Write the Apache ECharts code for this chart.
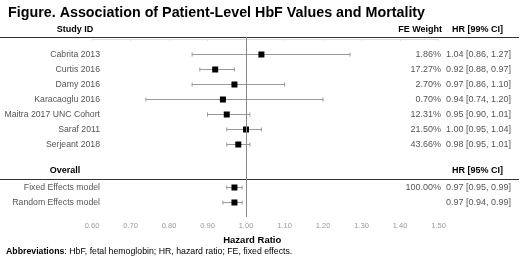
<!DOCTYPE html>
<html>
<head>
<meta charset="utf-8">
<script src="https://cdn.jsdelivr.net/npm/echarts@6/dist/echarts.min.js"></script>
<style>
  html, body { margin: 0; padding: 0; background: #fff; }
  #chart { width: 520px; height: 260px; }
</style>
</head>
<body>
<div id="chart"></div>
<script>
// forest plot data
var studies = ['Cabrita 2013', 'Curtis 2016', 'Damy 2016', 'Karacaoglu 2016', 'Maitra 2017 UNC Cohort', 'Saraf 2011', 'Serjeant 2018'];
var studyHr = [1.04, 0.92, 0.97, 0.94, 0.95, 1.00, 0.98];
var studyLower = [0.86, 0.88, 0.86, 0.74, 0.90, 0.95, 0.95];
var studyUpper = [1.27, 0.97, 1.10, 1.20, 1.01, 1.04, 1.01];
var studyWeight = ['1.86%', '17.27%', '2.70%', '0.70%', '12.31%', '21.50%', '43.66%'];

var models = ['Fixed Effects model', 'Random Effects model'];
var modelHr = [0.97, 0.97];
var modelLower = [0.95, 0.94];
var modelUpper = [0.99, 0.99];
var modelWeight = ['100.00%', ''];

var xTicks = [0.6, 0.7, 0.8, 0.9, 1.0, 1.1, 1.2, 1.3, 1.4, 1.5];

var FONT = '"Liberation Sans", Arial, sans-serif';

function fmt(v) { return v.toFixed(2); }

var rows = [];
studies.forEach(function (s, i) {
  rows.push([studyHr[i], studyLower[i], studyUpper[i], i + 1, s, studyWeight[i]]);
});
models.forEach(function (m, i) {
  rows.push([modelHr[i], modelLower[i], modelUpper[i], studies.length + 2.9 + i, m, modelWeight[i]]);
});

function renderRow(params, api) {
  var hr = api.value(0), lo = api.value(1), hi = api.value(2), r = api.value(3);
  var p = api.coord([hr, r]);
  var a = api.coord([lo, r]);
  var b = api.coord([hi, r]);
  var y = Math.round(p[1]) + 0.5;
  var d = rows[params.dataIndex];
  var txt = { fontFamily: FONT, fontSize: 9, fill: '#555', verticalAlign: 'middle' };
  return {
    type: 'group',
    children: [
      { type: 'line', shape: { x1: a[0], y1: y, x2: b[0], y2: y }, style: { stroke: '#999', lineWidth: 1 } },
      { type: 'line', shape: { x1: a[0], y1: y - 2, x2: a[0], y2: y + 2 }, style: { stroke: '#999', lineWidth: 1 } },
      { type: 'line', shape: { x1: b[0], y1: y - 2, x2: b[0], y2: y + 2 }, style: { stroke: '#999', lineWidth: 1 } },
      { type: 'rect', shape: { x: p[0] - 3, y: y - 3, width: 6, height: 6 }, style: { fill: '#000' } },
      { type: 'text', x: 100, y: y, style: Object.assign({ text: d[4], align: 'right', fontSize: 8.7 }, txt, { fontSize: 8.7 }) },
      { type: 'text', x: 441, y: y, style: Object.assign({ text: d[5], align: 'right' }, txt) },
      { type: 'text', x: 446, y: y, style: Object.assign({ text: fmt(hr) + ' [' + fmt(lo) + ', ' + fmt(hi) + ']', align: 'left' }, txt) }
    ]
  };
}

var chart = echarts.init(document.getElementById('chart'));
var head = { fontFamily: FONT, fontSize: 9, fontWeight: 'bold', fill: '#000', verticalAlign: 'middle' };

chart.setOption({
  animation: false,
  title: {
    text: 'Figure. Association of Patient-Level HbF Values and Mortality',
    left: 3, top: 1,
    textStyle: { fontFamily: FONT, fontSize: 14.3, fontWeight: 'bold', color: '#000' }
  },
  grid: { left: 92, right: 81.5, top: 37, height: 180 },
  xAxis: {
    type: 'value', min: 0.6, max: 1.5, interval: 0.1,
    name: 'Hazard Ratio', nameLocation: 'middle', nameGap: 16,
    nameTextStyle: { fontFamily: FONT, fontSize: 9.5, fontWeight: 'bold', color: '#000', padding: [0, 26, 0, 0] },
    axisLine: { show: true, lineStyle: { color: '#ddd' } },
    axisTick: { show: true, length: 2, lineStyle: { color: '#ddd' } },
    axisLabel: {
      fontFamily: FONT, fontSize: 7.5, color: '#999', margin: 5,
      formatter: function (v) { return v.toFixed(2); }
    },
    splitLine: { show: false }
  },
  yAxis: {
    type: 'value', inverse: true, min: -0.13, max: 11.87, show: false
  },
  graphic: [
    { type: 'text', x: 75, y: 30, style: Object.assign({ text: 'Study ID', align: 'center' }, head) },
    { type: 'text', x: 442, y: 30, style: Object.assign({ text: 'FE Weight', align: 'right' }, head) },
    { type: 'text', x: 452, y: 30, style: Object.assign({ text: 'HR [99% CI]', align: 'left' }, head) },
    { type: 'line', shape: { x1: 0, y1: 37.5, x2: 519, y2: 37.5 }, style: { stroke: '#333', lineWidth: 1.2 } },
    { type: 'text', x: 65, y: 171, style: Object.assign({ text: 'Overall', align: 'center' }, head) },
    { type: 'text', x: 452, y: 171, style: Object.assign({ text: 'HR [95% CI]', align: 'left' }, head) },
    { type: 'line', shape: { x1: 0, y1: 179.5, x2: 519, y2: 179.5 }, style: { stroke: '#333', lineWidth: 1.2 } },
    {
      type: 'text', x: 6, y: 252,
      style: {
        text: '{b|Abbreviations}: HbF, fetal hemoglobin; HR, hazard ratio; FE, fixed effects.',
        fontFamily: FONT, fontSize: 8.75, fill: '#000', verticalAlign: 'middle',
        rich: { b: { fontFamily: FONT, fontSize: 8.75, fontWeight: 'bold', fill: '#000' } }
      }
    }
  ],
  series: [
    {
      type: 'custom',
      renderItem: renderRow,
      clip: false,
      data: rows.map(function (r) { return r.slice(0, 4); }),
      markLine: {
        silent: true, symbol: 'none', label: { show: false },
        lineStyle: { color: '#888', type: 'solid', width: 1 },
        data: [{ xAxis: 1.0 }]
      }
    }
  ]
});
</script>
</body>
</html>
